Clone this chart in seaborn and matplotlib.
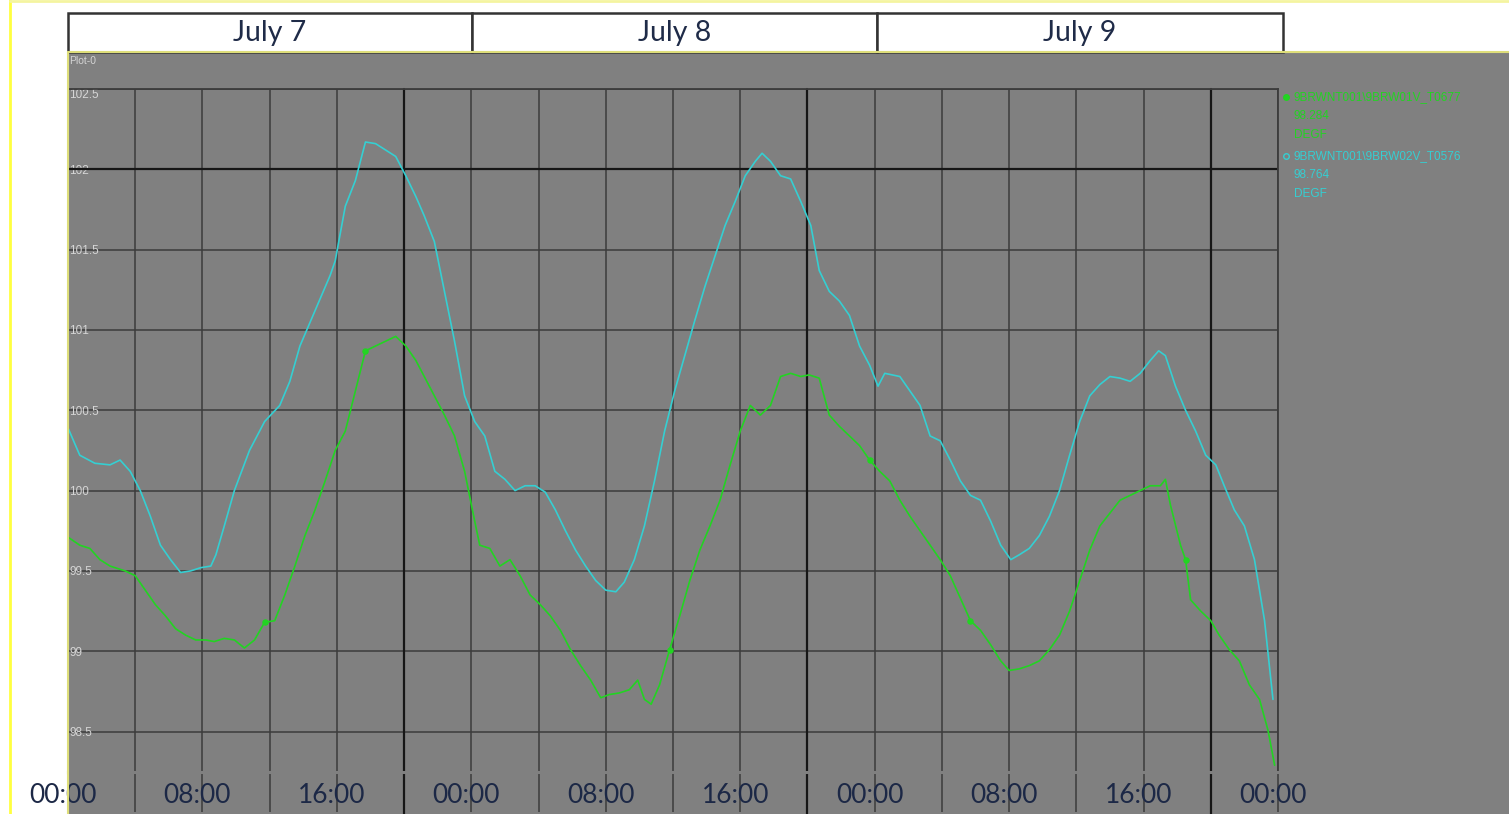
import pandas as pd
import seaborn as sns
import matplotlib.pyplot as plt
from matplotlib.patches import Rectangle
from matplotlib.lines import Line2D
from matplotlib.transforms import ScaledTranslation

# ==============================================================================
# DATA (hours since July 7 00:00, deg F)
# ==============================================================================
day_labels = ["July 7", "July 8", "July 9"]
hour_ticks = list(range(0, 73, 4))
hour_labels = {0: "00:00", 8: "08:00", 16: "16:00", 24: "00:00", 32: "08:00",
               40: "16:00", 48: "00:00", 56: "08:00", 64: "16:00", 72: "00:00"}
major_hours = [20, 44, 68]
temp_ticks = [98.5, 99.0, 99.5, 100.0, 100.5, 101.0, 101.5, 102.0, 102.5]

tag_01 = "9BRWNT001\\9BRW01V_T0677"
tag_02 = "9BRWNT001\\9BRW02V_T0576"
last_01 = "98.284"
last_02 = "98.764"
unit = "DEGF"

green_h = [0.0, 0.7, 1.3, 1.9, 2.5, 3.4, 4.0, 4.6, 5.2, 5.8,
           6.4, 7.0, 7.6, 8.2, 8.7, 9.3, 9.9, 10.5, 11.1, 11.7,
           12.3, 12.9, 13.5, 14.1, 14.7, 15.3, 15.9, 16.5, 17.1, 17.7,
           18.3, 18.9, 19.5, 20.1, 20.7, 21.2, 21.8, 22.4, 23.0, 23.6,
           24.2, 24.5, 25.1, 25.7, 26.3, 26.9, 27.5, 28.1, 28.7, 29.3,
           29.9, 30.5, 31.1, 31.7, 32.2, 32.8, 33.4, 33.9, 34.3, 34.7,
           35.2, 35.8, 36.4, 37.0, 37.6, 38.2, 38.8, 39.4, 40.0, 40.6,
           41.2, 41.8, 42.4, 43.0, 43.6, 44.1, 44.7, 45.3, 45.9, 46.5,
           47.1, 47.7, 48.3, 48.9, 49.5, 50.1, 50.7, 51.3, 51.9, 52.5,
           53.1, 53.7, 54.3, 54.9, 55.5, 56.0, 56.6, 57.2, 57.8, 58.4,
           59.0, 59.6, 60.2, 60.8, 61.4, 62.0, 62.6, 63.2, 63.8, 64.4,
           65.0, 65.3, 65.6, 66.2, 66.5, 66.8, 67.4, 68.0, 68.5, 69.1,
           69.7, 70.3, 70.9, 71.4, 71.8]
green_v = [99.71, 99.66, 99.64, 99.57, 99.53, 99.50, 99.47, 99.38, 99.29, 99.22,
           99.14, 99.10, 99.07, 99.07, 99.06, 99.08, 99.07, 99.02, 99.07, 99.18,
           99.19, 99.35, 99.53, 99.72, 99.88, 100.06, 100.25, 100.37, 100.62, 100.87,
           100.90, 100.93, 100.96, 100.90, 100.81, 100.71, 100.59, 100.47, 100.34, 100.12,
           99.81, 99.66, 99.64, 99.53, 99.57, 99.47, 99.35, 99.29, 99.22, 99.13,
           99.01, 98.91, 98.82, 98.71, 98.73, 98.74, 98.76, 98.82, 98.70, 98.67,
           98.79, 99.01, 99.22, 99.44, 99.63, 99.78, 99.94, 100.16, 100.37, 100.53,
           100.47, 100.53, 100.71, 100.73, 100.71, 100.72, 100.70, 100.47, 100.40, 100.34,
           100.28, 100.19, 100.12, 100.06, 99.94, 99.84, 99.75, 99.66, 99.57, 99.47,
           99.33, 99.19, 99.13, 99.04, 98.94, 98.88, 98.89, 98.91, 98.94, 99.01,
           99.10, 99.25, 99.44, 99.63, 99.78, 99.86, 99.94, 99.97, 100.00, 100.03,
           100.03, 100.07, 99.91, 99.66, 99.57, 99.32, 99.25, 99.19, 99.10, 99.01,
           98.94, 98.79, 98.70, 98.51, 98.29]
# samples that the historian drew with a dot
green_marked = [19, 29, 61, 81, 91, 114]

cyan_h = [0.0, 0.7, 1.6, 2.5, 3.1, 3.7, 4.3, 4.9, 5.5, 6.1,
          6.7, 7.3, 7.9, 8.5, 8.8, 9.3, 9.9, 10.8, 11.7, 12.6,
          13.2, 13.8, 14.7, 15.6, 15.9, 16.5, 17.1, 17.7, 18.3, 18.9,
          19.5, 20.1, 20.7, 21.2, 21.8, 22.4, 23.0, 23.6, 24.2, 24.8,
          25.4, 26.0, 26.6, 27.2, 27.8, 28.4, 29.0, 29.6, 30.2, 30.8,
          31.4, 32.0, 32.6, 33.1, 33.7, 34.3, 34.9, 35.5, 36.1, 36.7,
          37.3, 37.9, 38.5, 39.1, 39.7, 40.3, 40.9, 41.3, 41.8, 42.4,
          43.0, 43.6, 44.2, 44.7, 45.3, 45.9, 46.5, 47.1, 47.7, 48.2,
          48.6, 49.5, 50.1, 50.7, 51.3, 51.9, 52.5, 53.1, 53.7, 54.3,
          54.9, 55.5, 56.1, 56.6, 57.2, 57.8, 58.4, 59.0, 59.6, 60.2,
          60.8, 61.4, 62.0, 62.6, 63.2, 63.8, 64.4, 64.9, 65.3, 65.9,
          66.5, 67.1, 67.7, 68.3, 68.8, 69.4, 70.0, 70.6, 71.2, 71.7]
cyan_v = [100.39, 100.22, 100.17, 100.16, 100.19, 100.12, 100.00, 99.84, 99.66, 99.57,
          99.49, 99.50, 99.52, 99.53, 99.60, 99.78, 100.00, 100.25, 100.43, 100.53,
          100.68, 100.90, 101.12, 101.34, 101.43, 101.77, 101.93, 102.17, 102.16, 102.12,
          102.08, 101.96, 101.83, 101.71, 101.55, 101.24, 100.93, 100.59, 100.43, 100.34,
          100.12, 100.07, 100.00, 100.03, 100.03, 99.99, 99.88, 99.75, 99.63, 99.53,
          99.44, 99.38, 99.37, 99.43, 99.57, 99.78, 100.06, 100.37, 100.62, 100.84,
          101.06, 101.27, 101.46, 101.65, 101.80, 101.96, 102.05, 102.10, 102.05, 101.96,
          101.94, 101.80, 101.65, 101.37, 101.24, 101.18, 101.09, 100.90, 100.78, 100.65,
          100.73, 100.71, 100.62, 100.53, 100.34, 100.31, 100.19, 100.06, 99.97, 99.94,
          99.81, 99.66, 99.57, 99.60, 99.64, 99.72, 99.84, 100.00, 100.22, 100.43,
          100.59, 100.66, 100.71, 100.70, 100.68, 100.73, 100.81, 100.87, 100.84, 100.65,
          100.50, 100.37, 100.22, 100.16, 100.03, 99.88, 99.78, 99.57, 99.19, 98.70]

GREEN = "#22d422"
CYAN = "#35cfd2"
PANEL = "#808080"
GRID = "#3c3c3c"

# ==============================================================================
# LAYOUT (pixel helpers)
# ==============================================================================
W, H = 1509, 814


def fx(px):
    return px / W


def fy(py):
    return 1 - py / H


df = pd.concat([
    pd.DataFrame({"hour": green_h, "temp": green_v, "tag": tag_01}),
    pd.DataFrame({"hour": cyan_h, "temp": cyan_v, "tag": tag_02}),
])
df_dots = pd.DataFrame({"hour": [green_h[i] for i in green_marked],
                        "temp": [green_v[i] for i in green_marked]})

sns.set_style("dark", rc={"axes.facecolor": PANEL})
plt.rcParams["font.family"] = ["Liberation Sans", "DejaVu Sans"]

fig = plt.figure(figsize=(W / 100, H / 100), dpi=100)
fig.patch.set_facecolor("white")

# gray trend panel with yellowish border
fig.add_artist(Rectangle((fx(68), 0), fx(1509) - fx(68), fy(52), transform=fig.transFigure,
                         facecolor=PANEL, edgecolor="none", zorder=0))
fig.add_artist(Line2D([fx(68), fx(1509)], [fy(52), fy(52)], color="#dede7a", lw=1.5, zorder=3))
fig.add_artist(Line2D([fx(68), fx(68)], [fy(52), 0], color="#dede7a", lw=1.5, zorder=3))
# outer yellow frame
fig.add_artist(Line2D([fx(10), fx(10)], [1, 0], color="#ffff40", lw=2, zorder=3))
fig.add_artist(Line2D([fx(10), 1], [fy(1), fy(1)], color="#f4f4a0", lw=2, zorder=3))

# day header boxes
box_edges = [68, 472, 877, 1283]
for i, lab in enumerate(day_labels):
    x0, x1 = box_edges[i], box_edges[i + 1]
    fig.add_artist(Rectangle((fx(x0), fy(52)), fx(x1) - fx(x0), fy(13) - fy(52),
                             transform=fig.transFigure, facecolor="white",
                             edgecolor="#333333", lw=1.8, zorder=2))
    fig.text((fx(x0) + fx(x1)) / 2, fy(33), lab, ha="center", va="center",
             fontsize=20.5, color="#1f2b48", family=["Lato", "DejaVu Sans"], zorder=4)

fig.text(fx(69), fy(61), "Plot-0", fontsize=7.5, color="#d4d4d4", va="center", ha="left")

# ==============================================================================
# TREND AXES
# ==============================================================================
ax = fig.add_axes([fx(68), fy(772), fx(1278) - fx(68), fy(89) - fy(772)])
ax.set_facecolor(PANEL)

sns.lineplot(data=df, x="hour", y="temp", hue="tag",
             palette={tag_01: GREEN, tag_02: CYAN}, linewidth=1.2,
             legend=False, ax=ax, zorder=3)
sns.scatterplot(data=df_dots, x="hour", y="temp", color=GREEN, s=22,
                linewidth=0, ax=ax, zorder=4)

ax.set_xlim(0, 72)
ax.set_ylim(98.248, 102.5)
ax.set_xlabel("")
ax.set_ylabel("")

ax.set_xticks(hour_ticks)
ax.set_xticklabels([hour_labels.get(h, "") for h in hour_ticks],
                   fontsize=19, color="#1c2846", family=["Lato", "DejaVu Sans"])
ax.tick_params(axis="x", bottom=True, direction="out", length=29, width=1.1,
               color=GRID, pad=-21)
off = ScaledTranslation(-5 / 100, 0, fig.dpi_scale_trans)
for lab in ax.get_xticklabels():
    lab.set_transform(lab.get_transform() + off)

ax.set_yticks(temp_ticks)
ax.set_yticklabels([f"{t:g}" for t in temp_ticks], fontsize=8.5, color="#d6d6d6")
ax.tick_params(axis="y", direction="in", length=0, pad=-1)
for lab in ax.get_yticklabels():
    lab.set_horizontalalignment("left")
ax.get_yticklabels()[-1].set_verticalalignment("top")

ax.grid(True, color=GRID, lw=1.1)
# day-boundary lines run on down through the time scale
for h in major_hours:
    ax.axvline(h, ymin=-0.065, ymax=1, color="#161616", lw=1.6, zorder=1, clip_on=False)
ax.axhline(102.0, color="#161616", lw=1.6, zorder=1)

ax.spines["left"].set_visible(False)
# a thin panel-coloured bottom spine leaves the small break between grid and ticks
ax.spines["bottom"].set_visible(True)
ax.spines["bottom"].set_color(PANEL)
ax.spines["bottom"].set_linewidth(2.2)
for side in ["top", "right"]:
    ax.spines[side].set_visible(True)
    ax.spines[side].set_color(GRID)
    ax.spines[side].set_linewidth(1.3)

# ==============================================================================
# LEGEND (right side of panel)
# ==============================================================================
rows = [(97, tag_01, GREEN), (116, last_01, GREEN), (135, unit, GREEN),
        (156, tag_02, CYAN), (175, last_02, CYAN), (194, unit, CYAN)]
for y, txt, col in rows:
    fig.text(fx(1294), fy(y), txt, fontsize=8.5, color=col, va="center", ha="left")
fig.add_artist(Line2D([fx(1286)], [fy(97)], marker="o", ms=4, color=GREEN, lw=0))
fig.add_artist(Line2D([fx(1286)], [fy(156)], marker="o", ms=4, mfc="none",
                      mec=CYAN, mew=1, lw=0))

fig.savefig("out.png", dpi=100)
